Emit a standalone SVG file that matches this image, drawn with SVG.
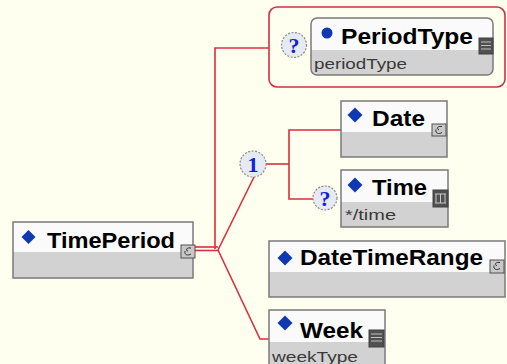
<svg xmlns="http://www.w3.org/2000/svg" width="507" height="364" viewBox="0 0 507 364">
<defs>
<style>
.bg{fill:#FFFFF0}
.top{fill:#FAFAFA;stroke:none}
.bot{fill:#D2D2D2;stroke:none}
.frame{fill:none;stroke:#7A7A7A;stroke-width:1.5}
.name{font-family:"Liberation Sans",Arial,sans-serif;font-weight:bold;font-size:22px;fill:#000}
.sub{font-family:"Liberation Sans",Arial,sans-serif;font-size:15.5px;fill:#3A3A3A}
.dia{fill:#1038B0}
.wire{fill:none;stroke:#D8303C;stroke-width:1.6}
.mark{fill:#E6EAF2;stroke:#8A8A8A;stroke-width:1.2;stroke-dasharray:2 1.5}
.mtxt{font-family:"Liberation Serif","Times New Roman",serif;font-weight:bold;font-size:22px;fill:#1020E0;text-anchor:middle}
.icon{fill:#C8C8C8;stroke:#505050;stroke-width:1}
.dicon{fill:#505050;stroke:#404040;stroke-width:1}
</style>
</defs>
<rect class="bg" x="0" y="0" width="507" height="364"/>

<g id="connectors">
<polyline class="wire" points="269,48 215,48 215,249"/>
<line class="wire" x1="195" y1="247" x2="218" y2="247"/>
<line class="wire" x1="195" y1="250.5" x2="218" y2="250.5"/>
<line class="wire" x1="218" y1="250" x2="254" y2="177"/>
<polyline class="wire" points="218,250 260,339 269,339"/>
<line class="wire" x1="266" y1="164" x2="289" y2="164"/>
<polyline class="wire" points="341,130 289,130 289,199 313,199"/>
</g>

<g id="periodtype-group">
<rect x="269" y="7" width="236" height="80" rx="8" fill="none" stroke="#D03040" stroke-width="1.6"/>
<circle class="mark" cx="294" cy="45" r="12.5"/>
<text class="mtxt" x="294" y="53">?</text>
</g>

<g id="PeriodType">
<rect class="top" x="311" y="18" width="182" height="57" rx="6"/>
<path class="bot" d="M311,50 H493 V69 a6,6 0 0 1 -6,6 H317 a6,6 0 0 1 -6,-6 Z"/>
<rect class="frame" x="311" y="18" width="182" height="57" rx="6"/>
<circle class="dia" cx="327" cy="33" r="5.5"/>
<text class="name" x="341" y="44" textLength="132" lengthAdjust="spacingAndGlyphs">PeriodType</text>
<text class="sub" x="314" y="69" textLength="93" lengthAdjust="spacingAndGlyphs">periodType</text>
<rect class="dicon" x="479" y="38" width="14" height="16"/>
<path d="M481,42 H491 M481,45.5 H491 M481,49 H491" stroke="#C0C0C0" stroke-width="1"/>
</g>

<g id="TimePeriod">
<rect class="top" x="13" y="222" width="180" height="30"/>
<rect class="bot" x="13" y="252" width="180" height="26"/>
<rect class="frame" x="13" y="222" width="180" height="56"/>
<path class="dia" d="M28.5,230 L35.5,237 L28.5,244 L21.5,237 Z"/>
<text class="name" x="47" y="248" font-size="24" textLength="128" lengthAdjust="spacingAndGlyphs">TimePeriod</text>
<rect class="icon" x="181" y="245" width="14" height="13"/>
<path d="M191,248 C186,247 185,251 188,251 M185,251 C184,255 188,256 191,254" fill="none" stroke="#303030" stroke-width="1"/>
</g>

<g id="choice">
<circle class="mark" cx="253" cy="164" r="13"/>
<text class="mtxt" x="253" y="172">1</text>
</g>

<g id="Date">
<rect class="top" x="341" y="101" width="106" height="31"/>
<rect class="bot" x="341" y="132" width="106" height="25"/>
<rect class="frame" x="341" y="101" width="106" height="56"/>
<path class="dia" d="M355,107.5 L362.5,115 L355,122.5 L347.5,115 Z"/>
<text class="name" x="372" y="126" textLength="53" lengthAdjust="spacingAndGlyphs">Date</text>
<rect class="icon" x="432" y="124" width="14" height="12"/>
<path d="M442,126.5 C437,125.5 436,129.5 439,129.5 M436,129.5 C435,133.5 439,134.5 442,132.5" fill="none" stroke="#303030" stroke-width="1"/>
</g>

<g id="time-opt">
<circle class="mark" cx="325" cy="198" r="12"/>
<text class="mtxt" x="325" y="206">?</text>
</g>

<g id="Time">
<rect class="top" x="341" y="170" width="107" height="32"/>
<rect class="bot" x="341" y="202" width="107" height="25"/>
<rect class="frame" x="341" y="170" width="107" height="57"/>
<path class="dia" d="M355,177.5 L362.5,185 L355,192.5 L347.5,185 Z"/>
<text class="name" x="372" y="195" textLength="55" lengthAdjust="spacingAndGlyphs">Time</text>
<text class="sub" x="345" y="220" textLength="51" lengthAdjust="spacingAndGlyphs">*/time</text>
<rect class="dicon" x="433" y="190" width="15" height="17"/>
<path d="M436,194 V203 M440.5,194 V203 M445,194 V203 M435,194 H446 M435,203 H446" stroke="#C8C8C8" stroke-width="1"/>
</g>

<g id="DateTimeRange">
<rect class="top" x="269" y="241" width="236" height="31"/>
<rect class="bot" x="269" y="272" width="236" height="25"/>
<rect class="frame" x="269" y="241" width="236" height="56"/>
<path class="dia" d="M285,250.5 L292.5,258 L285,265.5 L277.5,258 Z"/>
<text class="name" x="300" y="265" textLength="183" lengthAdjust="spacingAndGlyphs">DateTimeRange</text>
<rect class="icon" x="490" y="260" width="14" height="13"/>
<path d="M500,262.5 C495,261.5 494,265.5 497,265.5 M494,265.5 C493,269.5 497,270.5 500,268.5" fill="none" stroke="#303030" stroke-width="1"/>
</g>

<g id="Week">
<rect class="top" x="269" y="310" width="116" height="32"/>
<rect class="bot" x="269" y="342" width="116" height="25"/>
<rect class="frame" x="269" y="310" width="116" height="60"/>
<path class="dia" d="M285,315.5 L292.5,323 L285,330.5 L277.5,323 Z"/>
<text class="name" x="300" y="338" textLength="63" lengthAdjust="spacingAndGlyphs">Week</text>
<text class="sub" x="272" y="362" textLength="86" lengthAdjust="spacingAndGlyphs">weekType</text>
<rect class="dicon" x="369" y="330" width="15" height="17"/>
<path d="M371,334 H382 M371,337.5 H382 M371,341 H382" stroke="#C0C0C0" stroke-width="1"/>
</g>
</svg>
